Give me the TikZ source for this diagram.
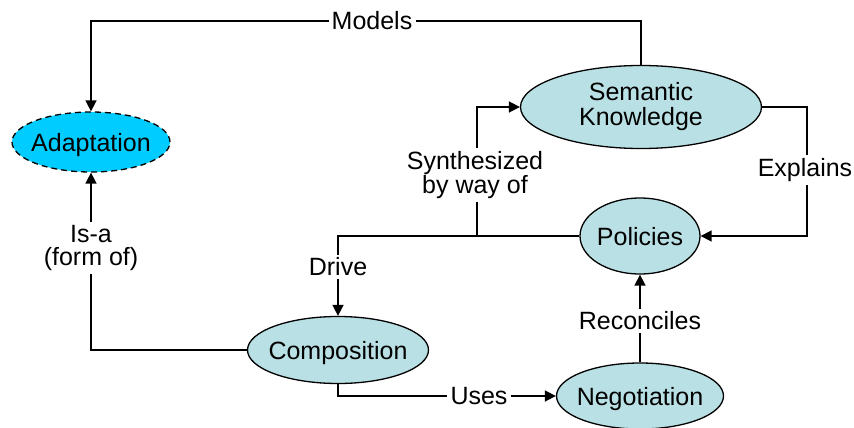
\documentclass[tikz,border=0pt]{standalone}
\usepackage{fontspec}
\setmainfont{Liberation Sans}
\usetikzlibrary{shapes.geometric,arrows.meta}
\definecolor{nodefill}{RGB}{185,224,228}
\definecolor{adaptfill}{RGB}{0,204,255}
\begin{document}
\begin{tikzpicture}[x=1pt,y=-1pt,
  font=\fontsize{25}{23}\selectfont,
  concept/.style={ellipse, draw, line width=1.3pt, fill=nodefill, inner sep=0pt},
  oneline/.style={text depth=0pt},
  link/.style={line width=1.6pt, -{Triangle[length=11pt,width=11pt]}},
  plain/.style={line width=1.6pt},
  lbl/.style={fill=white, inner sep=3pt, align=center}]
\useasboundingbox (0,0) rectangle (854,428);
% concepts
\node[concept, oneline, fill=adaptfill, dash pattern=on 6pt off 4pt, minimum width=158pt, minimum height=60pt] (ad) at (91,142) {\makebox[0pt]{Adaptation}};
\node[concept, minimum width=241pt, minimum height=83pt] (sk) at (641,107) {\makebox[0pt]{\begin{tabular}{@{}c@{}}Semantic\\Knowledge\end{tabular}}};
\node[concept, oneline, minimum width=120pt, minimum height=76pt] (pol) at (640,236) {\makebox[0pt]{Policies}};
\node[concept, oneline, minimum width=181pt, minimum height=67pt] (comp) at (338,350) {\makebox[0pt]{Composition}};
\node[concept, oneline, minimum width=167pt, minimum height=66pt] (neg) at (640,396) {\makebox[0pt]{Negotiation}};
% labels
\node[lbl] (models) at (372,21) {Models};
\node[lbl] (isa) at (91,248) {Is-a\\(form of)};
\node[lbl] (synth) at (475,175) {Synthesized\\by way of};
\node[lbl] (drive) at (338,267) {Drive};
\node[lbl] (expl) at (805,170) {Explains};
\node[lbl] (uses) at (479,396) {Uses};
\node[lbl] (rec) at (640,321) {Reconciles};
\coordinate (j) at (477,236);
% connectors
\draw[plain] (sk.north) |- (models);
\draw[link] (models) -| (ad.north);
\draw[plain] (comp.west) -| (isa);
\draw[link] (isa) -- (ad.south);
\draw[plain] (pol.west) -- (j) -- (j |- synth.south);
\draw[link] (j |- synth.north) |- (sk.west);
\draw[plain] (j) -| (drive);
\draw[link] (drive) -- (comp.north);
\draw[plain] (sk.east) -| (expl.north -| 807,0);
\draw[link] (expl.south -| 807,0) |- (pol.east);
\draw[plain] (comp.south) |- (uses);
\draw[link] (uses) -- (neg.west);
\draw[plain] (neg.north) -- (rec);
\draw[link] (rec) -- (pol.south);
\end{tikzpicture}
\end{document}
